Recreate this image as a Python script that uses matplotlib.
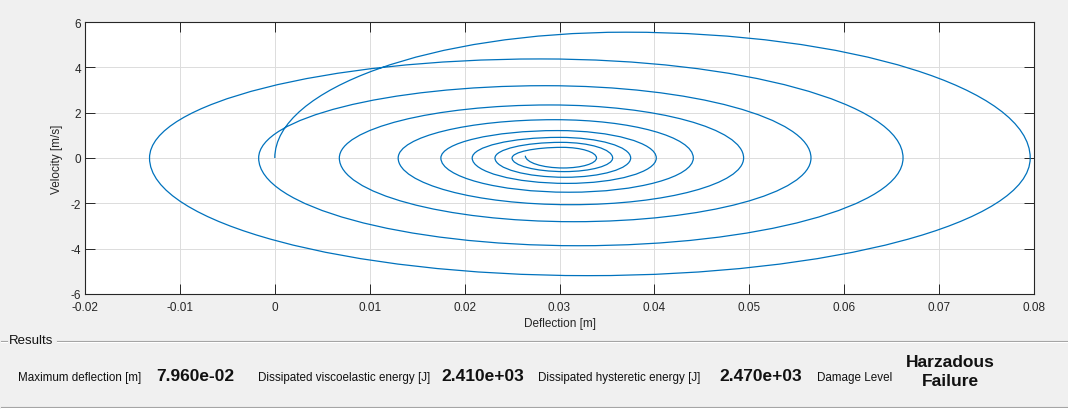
import matplotlib
matplotlib.use("Agg")
import matplotlib.pyplot as plt
from matplotlib.path import Path
from matplotlib.patches import PathPatch
from matplotlib.lines import Line2D

plt.rcParams['font.family'] = ['Liberation Sans', 'DejaVu Sans']
plt.rcParams['axes.unicode_minus'] = False

# phase portrait: turning points of each loop (clockwise spiral)
start_x, start_v = 0.0, 0.0
top_x = [0.0370, 0.0280, 0.0285, 0.0290, 0.0295, 0.0298, 0.0300, 0.0302, 0.0303]
top_v = [5.55, 4.37, 3.19, 2.34, 1.69, 1.21, 0.91, 0.69, 0.47]
right_x = [0.0796, 0.0662, 0.0565, 0.0494, 0.0441, 0.0402, 0.0375, 0.0356, 0.0339]
bottom_x = [0.0330, 0.0320, 0.0315, 0.0312, 0.0310, 0.0308, 0.0306, 0.0305, 0.0304]
bottom_v = [-5.19, -3.87, -2.81, -2.06, -1.51, -1.12, -0.85, -0.60, -0.44]
left_x = [-0.0132, -0.0017, 0.0068, 0.0130, 0.0175, 0.0208, 0.0232, 0.0250, 0.0264]
end_v = 0.10

# results panel
res_labels = ["Maximum deflection [m]", "Dissipated viscoelastic energy [J]",
              "Dissipated hysteretic energy [J]", "Damage Level"]
res_values = ["7.960e-02", "2.410e+03", "2.470e+03"]
damage_text = "Harzadous\nFailure"

# key points in order, with tangent direction: 'v' vertical, 'h' horizontal
pts = [(start_x, start_v, 'v')]
for i in range(len(top_v)):
    pts.append((top_x[i], top_v[i], 'h'))
    pts.append((right_x[i], 0.0, 'v'))
    pts.append((bottom_x[i], bottom_v[i], 'h'))
    if i < len(top_v) - 1:
        pts.append((left_x[i], 0.0, 'v'))
pts.append((left_x[-1], end_v, 'v'))

k = 0.5523  # bezier quarter-ellipse factor
verts = [(pts[0][0], pts[0][1])]
codes = [Path.MOVETO]
for (x0, y0, t0), (x1, y1, t1) in zip(pts[:-1], pts[1:]):
    if t0 == 'v':
        c1 = (x0, y0 + k * (y1 - y0))
    else:
        c1 = (x0 + k * (x1 - x0), y0)
    if t1 == 'h':
        c2 = (x1 - k * (x1 - x0), y1)
    else:
        c2 = (x1, y1 - k * (y1 - y0))
    verts += [c1, c2, (x1, y1)]
    codes += [Path.CURVE4] * 3

W, H = 1068, 410
fig = plt.figure(figsize=(W / 100, H / 100), dpi=100, facecolor='#f0f0f0')


def fx(px):
    return px / W


def fy(py):
    return 1 - py / H


ax = fig.add_axes([fx(85), fy(295), (1034 - 85) / W, (295 - 23) / H])
ax.add_patch(PathPatch(Path(verts, codes), facecolor='none', edgecolor='#0072BD', lw=0.9))
ax.set_xlim(-0.02, 0.08)
ax.set_ylim(-6, 6)
ax.set_xticks([-0.02, -0.01, 0, 0.01, 0.02, 0.03, 0.04, 0.05, 0.06, 0.07, 0.08])
ax.set_xticklabels(['-0.02', '-0.01', '0', '0.01', '0.02', '0.03', '0.04', '0.05', '0.06', '0.07', '0.08'])
ax.set_yticks([-6, -4, -2, 0, 2, 4, 6])
ax.grid(True, color='#dcdcdc', lw=0.7)
ax.set_axisbelow(True)
ax.tick_params(direction='in', length=7.2, width=0.7, color='#262626', top=True, right=True,
               labelsize=8.5, labelcolor='#262626')
ax.tick_params(axis='x', pad=5)
ax.tick_params(axis='y', pad=3)
for s in ax.spines.values():
    s.set_color('#262626')
    s.set_linewidth(0.8)
ax.set_xlabel('Deflection [m]', fontsize=8.5, color='#262626', labelpad=3)
ax.set_ylabel('Velocity [m/s]', fontsize=8.5, color='#262626', labelpad=5)

# panel border
for y, c in [(341.5, '#a0a0a0'), (342.5, '#ffffff'), (408.3, '#a0a0a0'), (409.3, '#ffffff')]:
    if y < 400:
        fig.add_artist(Line2D([fx(57), 1], [fy(y), fy(y)], color=c, lw=0.8))
        fig.add_artist(Line2D([fx(1), fx(7)], [fy(y), fy(y)], color=c, lw=0.8))
    else:
        fig.add_artist(Line2D([fx(1), 1], [fy(y), fy(y)], color=c, lw=0.8))
fig.text(fx(9), fy(341.5), 'Results', fontsize=9.5, va='center', ha='left', color='#111111')

label_x = [18.3, 258.3, 538.3, 816.7]
value_x = [156, 441.7, 719]
for lx, txt in zip(label_x, res_labels):
    fig.text(fx(lx), fy(378), txt, fontsize=8.4, va='center', ha='left', color='#111111')
for vx, txt in zip(value_x, res_values):
    fig.text(fx(vx), fy(377), txt, fontsize=12.5, fontweight='bold', va='center', ha='left',
             color='#111111')
fig.text(fx(950), fy(372), damage_text, fontsize=12.5, fontweight='bold', va='center', ha='center',
         color='#111111', linespacing=1.35)

fig.savefig('out.png', dpi=100, facecolor=fig.get_facecolor())
